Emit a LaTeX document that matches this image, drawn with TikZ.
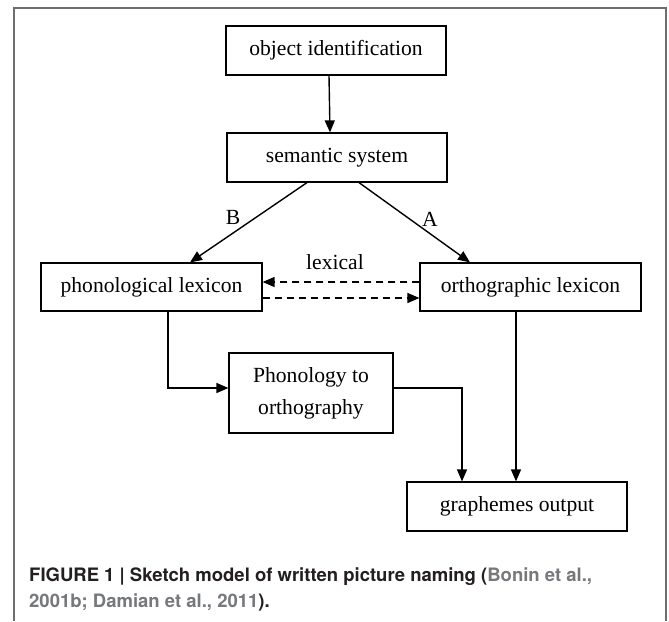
\documentclass[tikz,border=0pt]{standalone}
\usepackage{fontspec}
\setmainfont{Liberation Serif}
\newfontfamily\capfont{TeX Gyre Heros}
\usetikzlibrary{arrows.meta,calc}
\definecolor{captxt}{HTML}{231F20}
\definecolor{capgray}{HTML}{77787B}
\definecolor{framegray}{HTML}{6D6E71}
\begin{document}
\begin{tikzpicture}[x=1pt,y=-1pt,
  box/.style={draw=black,line width=1.2pt,rectangle,inner sep=0pt,align=center,
     font=\fontsize{21.6}{32}\selectfont},
  arr/.style={line width=1.4pt,-{Triangle[length=12pt,width=10pt]}},
  dasharr/.style={arr,dash pattern=on 7pt off 5pt},
  lbl/.style={inner sep=0pt,font=\fontsize{21.6}{26}\selectfont}]
\useasboundingbox (0,0) rectangle (669,621);
\fill[white] (0,0) rectangle (669,621);
\draw[framegray,line width=1.1pt] (14,621) -- (14,8) -- (666,8) -- (666,621);
\node[box,minimum width=220pt,minimum height=49pt] (obj) at (336,50.5) {object identification};
\node[box,minimum width=220pt,minimum height=49pt] (sem) at (337,157.5) {semantic system};
\node[box,minimum width=221pt,minimum height=48pt] (phon) at (151.5,287) {phonological lexicon};
\node[box,minimum width=221pt,minimum height=48pt] (orth) at (530.5,287) {orthographic lexicon};
\node[box,minimum width=164pt,minimum height=80pt] (p2o) at (311,393) {Phonology to\\orthography};
\node[box,minimum width=220pt,minimum height=49pt] (graph) at (517,506.5) {graphemes output};
\draw[arr] ([xshift=-7pt]obj.south) -- ([xshift=-7pt]sem.north);
\draw[arr] ([xshift=-30pt]sem.south) -- ([xshift=38.5pt]phon.north);
\draw[arr] ([xshift=22pt]sem.south) -- ([xshift=-60.5pt]orth.north);
\node[lbl] (B) at (233,217) {B};
\node[lbl] (A) at (430,219) {A};
\node[lbl] (lex) at (335,262) {lexical};
\draw[dasharr] ([yshift=5pt]orth.west) -- ([yshift=5pt]phon.east);
\draw[dasharr] ([yshift=-11pt]phon.east) -- ([yshift=-11pt]orth.west);
\draw[arr] ([xshift=16.5pt]phon.south) |- ([yshift=5pt]p2o.west);
\draw[arr] ([yshift=5pt]p2o.east) -| ([xshift=-55pt]graph.north);
\draw[arr] ([xshift=-14.5pt]orth.south) -- ([xshift=-14.5pt]orth.south |- graph.north);
\node[anchor=base west,inner sep=0pt,font=\capfont\bfseries\fontsize{18.5}{26}\selectfont,text=captxt] (cap1) at (29,581)
  {FIGURE 1 | Sketch model of written picture naming (\textcolor{capgray}{Bonin et al.,}};
\node[anchor=base west,inner sep=0pt,font=\capfont\bfseries\fontsize{18.5}{26}\selectfont,text=captxt] (cap2) at (29,607)
  {\textcolor{capgray}{2001b; Damian et al., 2011}).};
\end{tikzpicture}
\end{document}
